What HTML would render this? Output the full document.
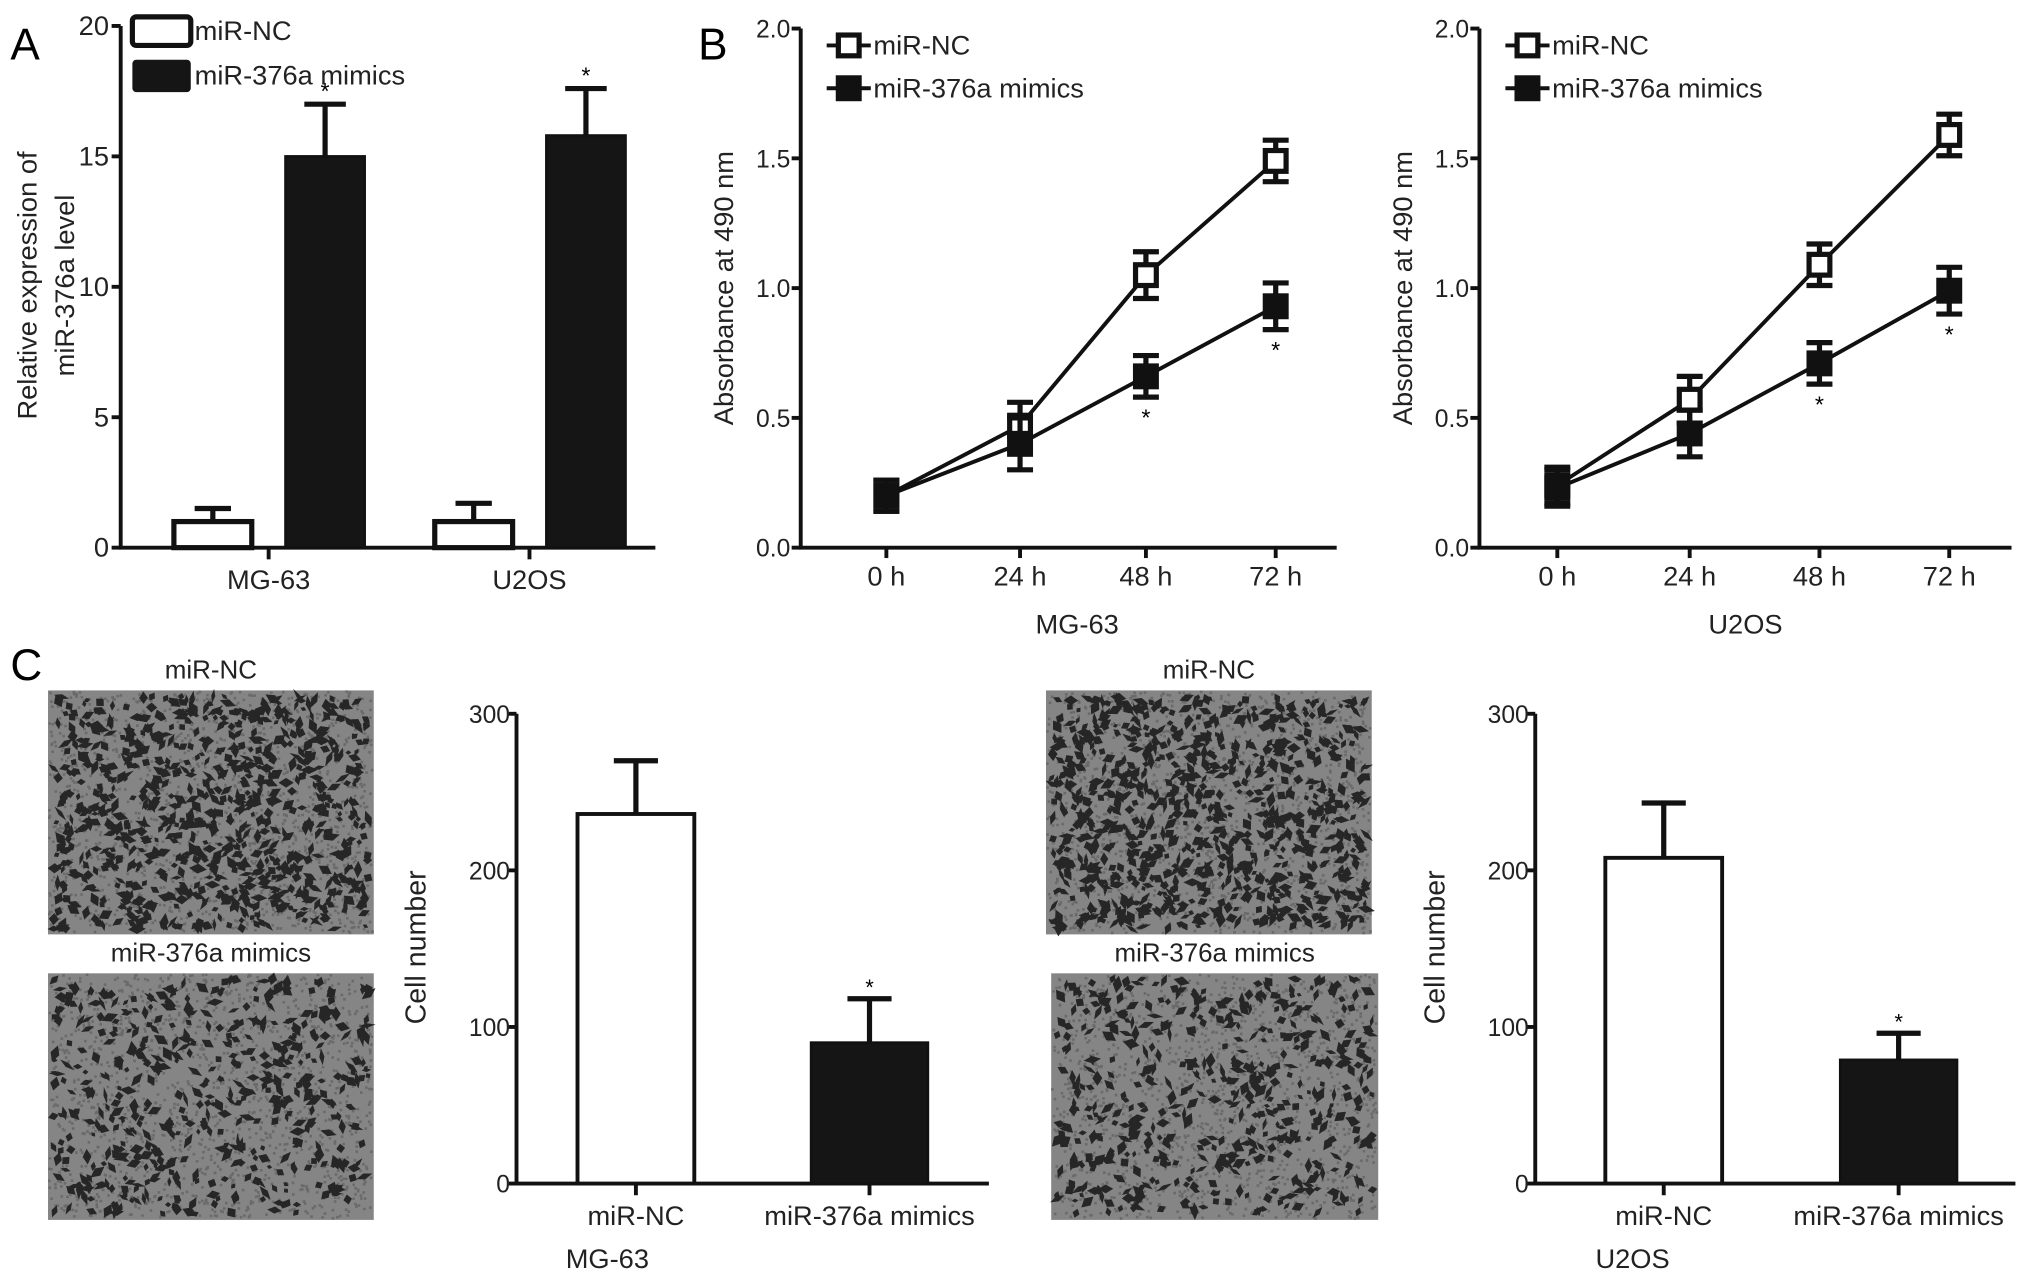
<!DOCTYPE html>
<html><head><meta charset="utf-8"><style>
html,body{margin:0;padding:0;background:#fff;}
svg{display:block;font-family:"Liberation Sans",Arial,sans-serif;}
.n{font-family:"Liberation Sans Narrow","Liberation Sans",sans-serif;}
</style></head><body>
<svg id="fig" width="2031" height="1277" viewBox="0 0 1565 984" preserveAspectRatio="none" xmlns="http://www.w3.org/2000/svg">
<text x="8" y="46" font-size="34">A</text>
<text x="538" y="46" font-size="34">B</text>
<text x="8" y="524" font-size="34">C</text>
<g id="gA"></g>
<g id="gB1"></g>
<g id="gB2"></g>
<g id="gC"></g>
</svg>
<script>
// Panel A data
const aCats = ["MG-63","U2OS"];
const aNC = [1.0, 1.0];
const aNCerr = [0.5, 0.7];
const aMim = [15.0, 15.8];
const aMimErr = [2.0, 1.8];
const aTicks = [0,5,10,15,20];
// Panel B data
const bTimes = ["0 h","24 h","48 h","72 h"];
const bTicks = [0.0,0.5,1.0,1.5,2.0];
const mgNC = [0.20,0.47,1.05,1.49];
const mgNCerr = [0.06,0.09,0.09,0.08];
const mgMim = [0.20,0.40,0.66,0.93];
const mgMimErr = [0.06,0.10,0.08,0.09];
const uNC = [0.24,0.57,1.09,1.59];
const uNCerr = [0.07,0.09,0.08,0.08];
const uMim = [0.23,0.44,0.71,0.99];
const uMimErr = [0.07,0.09,0.08,0.09];
const bStarsMG = [false,false,true,true];
const bStarsU = [false,false,true,true];
// Panel C data
const cCats = ["miR-NC","miR-376a mimics"];
const cTicks = [0,100,200,300];
const cMG = [236, 90];
const cMGerr = [34, 28];
const cU = [208, 79];
const cUerr = [35, 17];

const NS="http://www.w3.org/2000/svg";
function mk(parent,tag,attrs,text){const e=document.createElementNS(NS,tag);for(const k in attrs)e.setAttribute(k,attrs[k]);if(text!==undefined)e.textContent=text;parent.appendChild(e);return e;}

// ---------- Panel A ----------
(function(){
const g=document.getElementById('gA');
const x0=93,x1=505,y0=422,y1=20;
const ys=v=>y0-(v/20)*(y0-y1);
const groupX=[207,408];
const ax=mk(g,'path',{d:`M${x0} ${y1}V${y0}H${x1}`,stroke:'#111','stroke-width':3,fill:'none'});


aTicks.forEach(t=>{
 const l=mk(g,'line',{x1:x0-7,x2:x0,y1:ys(t),y2:ys(t),stroke:'#111','stroke-width':3});
 
 
 const tx=mk(g,'text',{x:x0-9,y:ys(t)+7,'font-size':21,'text-anchor':'end',fill:'#222'},String(t));
 
 
});
aCats.forEach((c,i)=>{
 const cx=groupX[i];
 mk(g,'line',{x1:cx,x2:cx,y1:y0,y2:y0+9,stroke:'#111','stroke-width':3});
 const tx=mk(g,'text',{x:cx,y:y0+32,'font-size':21,'text-anchor':'middle',fill:'#222'},c);
 
 
 const nl=cx-73,nw=60;
 const eb=mk(g,'path',{d:`M${nl+nw/2} ${ys(aNC[i])}V${ys(aNC[i]+aNCerr[i])}M${nl+nw/2-14} ${ys(aNC[i]+aNCerr[i])}h28`,stroke:'#111','stroke-width':4,fill:'none'});
 
 
 const b=mk(g,'rect',{x:nl,y:ys(aNC[i]),width:nw,height:y0-ys(aNC[i]),fill:'#fff',stroke:'#111','stroke-width':4});
 
 
 const ml=cx+13,mw=61;
 const eb2=mk(g,'path',{d:`M${ml+mw/2} ${ys(aMim[i])}V${ys(aMim[i]+aMimErr[i])}M${ml+mw/2-16} ${ys(aMim[i]+aMimErr[i])}h32`,stroke:'#111','stroke-width':4,fill:'none'});
 
 
 const b2=mk(g,'rect',{x:ml,y:ys(aMim[i]),width:mw,height:y0-ys(aMim[i]),fill:'#151515',stroke:'#111','stroke-width':2});
 
 
 const st=mk(g,'text',{x:ml+mw/2,y:ys(aMim[i]+aMimErr[i])-4,'font-size':18,'text-anchor':'middle'},'*');
 
 
});
const lg1=mk(g,'rect',{x:102,y:13,width:45,height:22,rx:3,fill:'#fff',stroke:'#111','stroke-width':4});


const lt1=mk(g,'text',{x:150,y:31,'font-size':21,fill:'#222'},'miR-NC');


const lg2=mk(g,'rect',{x:102,y:46,width:45,height:25,rx:3,fill:'#151515'});


const lt2=mk(g,'text',{x:150,y:65,'font-size':21,fill:'#222'},'miR-376a mimics');


const yl=mk(g,'text',{transform:'translate(28,220) rotate(-90)','font-size':21,'text-anchor':'middle',fill:'#222'},'Relative expression of');


const yl2=mk(g,'text',{transform:'translate(57,220) rotate(-90)','font-size':21,'text-anchor':'middle',fill:'#222'},'miR-376a level');


})();

// ---------- Panel B ----------
function lineChart(gid,x0,x1,xs,nc,ncErr,mim,mimErr,stars,cell,cellX){
const g=document.getElementById(gid);
const y0=422,y1=22;
const ys=v=>y0-(v/2)*(y0-y1);
const ax=mk(g,'path',{d:`M${x0} ${y1}V${y0}H${x1}`,stroke:'#111','stroke-width':3,fill:'none'});


bTicks.forEach(t=>{
 mk(g,'line',{x1:x0-7,x2:x0,y1:ys(t),y2:ys(t),stroke:'#111','stroke-width':3});
 const tx=mk(g,'text',{x:x0-8,y:ys(t)+7,'font-size':19,'text-anchor':'end',fill:'#222',class:'n'},t.toFixed(1));
 
 
});
bTimes.forEach((t,i)=>{
 mk(g,'line',{x1:xs[i],x2:xs[i],y1:y0,y2:y0+8,stroke:'#111','stroke-width':3});
 const tx=mk(g,'text',{x:xs[i],y:y0+29,'font-size':21,'text-anchor':'middle',fill:'#222',class:'n'},t);
 
 
});
const ct=mk(g,'text',{x:cellX,y:488,'font-size':21,'text-anchor':'middle',fill:'#222',class:'n'},cell);


const yl=mk(g,'text',{transform:`translate(${x0-52},222) rotate(-90)`,'font-size':21,'text-anchor':'middle',fill:'#222'},'Absorbance at 490 nm');


[[nc,ncErr,'nc',false],[mim,mimErr,'mimics',true]].forEach(([vals,errs,nm,filled])=>{
 const pl=mk(g,'polyline',{points:vals.map((v,i)=>xs[i]+','+ys(v)).join(' '),fill:'none',stroke:'#111','stroke-width':3});
 
 
 vals.forEach((v,i)=>{
  const e=mk(g,'path',{d:`M${xs[i]} ${ys(v+errs[i])}V${ys(v-errs[i])}M${xs[i]-10} ${ys(v+errs[i])}h20M${xs[i]-10} ${ys(v-errs[i])}h20`,stroke:'#111','stroke-width':4,fill:'none'});
  
  
  const p=mk(g,'rect',{x:xs[i]-8,y:ys(v)-8,width:16,height:16,fill:filled?'#111':'#fff',stroke:'#111','stroke-width':4});
  
  
  if(filled&&stars[i]){
   const s=mk(g,'text',{x:xs[i],y:ys(v-errs[i])+22,'font-size':18,'text-anchor':'middle'},'*');
   
   
  }
 });
});
const lx=x0+22;
[['miR-NC',35,false,'nc'],['miR-376a mimics',68,true,'mimics']].forEach(([t,y,f,nm])=>{
 mk(g,'line',{x1:lx-2,x2:lx+32,y1:y,y2:y,stroke:'#111','stroke-width':3});
 const m=mk(g,'rect',{x:lx+7,y:y-8,width:16,height:16,fill:f?'#111':'#fff',stroke:'#111','stroke-width':4});
 
 
 const tx=mk(g,'text',{x:lx+34,y:y+7,'font-size':21,fill:'#222',class:'n'},t);
 
 
});
}
lineChart('gB1',617,1030,[683,786,883,983],mgNC,mgNCerr,mgMim,mgMimErr,bStarsMG,'MG-63',830);
lineChart('gB2',1140,1550,[1200,1302,1402,1502],uNC,uNCerr,uMim,uMimErr,bStarsU,'U2OS',1345);

// ---------- Panel C ----------
(function(){
const g=document.getElementById('gC');
let seed=7;const rnd=()=>{seed=(seed*16807)%2147483647;return seed/2147483647;};
function micro(x,y,w,h,name,n,label){
 const gg=mk(g,'g',{});
 
 
 mk(gg,'rect',{x:x,y:y,width:w,height:h,fill:'#858585'});
 let sp='';
 for(let i=0;i<1500;i++){
  const cx=x+rnd()*(w-2),cy=y+rnd()*(h-2);
  sp+=`M${cx.toFixed(1)} ${cy.toFixed(1)}h2v2h-2Z`;
 }
 mk(gg,'path',{d:sp,fill:'#6a6a6a'});
 let d='';
 for(let i=0;i<n;i++){
  const cx=x+4+rnd()*(w-8),cy=y+4+rnd()*(h-8),a=2+rnd()*5,b=1.5+rnd()*2.5,ang=rnd()*6.28;
  const dx=Math.cos(ang)*a,dy=Math.sin(ang)*a,px=-Math.sin(ang)*b,py=Math.cos(ang)*b;
  d+=`M${(cx-dx).toFixed(1)} ${(cy-dy).toFixed(1)}L${(cx+px).toFixed(1)} ${(cy+py).toFixed(1)}L${(cx+dx).toFixed(1)} ${(cy+dy).toFixed(1)}L${(cx-px).toFixed(1)} ${(cy-py).toFixed(1)}Z`;
 }
 mk(gg,'path',{d:d,fill:'#262626'});
 const t=mk(g,'text',{x:x+w/2,y:y-9,'font-size':20,'text-anchor':'middle',fill:'#222',class:'n'},label);
 
 
}
micro(37,532,251,188,'micrograph-mg63-nc',850,'miR-NC');
micro(37,750,251,190,'micrograph-mg63-mimics',520,'miR-376a mimics');
micro(806,532,251,188,'micrograph-u2os-nc',900,'miR-NC');
micro(810,750,252,190,'micrograph-u2os-mimics',520,'miR-376a mimics');

function barC(x0,x1,centers,vals,errs,cell,cellX,pre){
 const y0=912,y1=550;
 const ys=v=>y0-(v/300)*(y0-y1);
 const ax=mk(g,'path',{d:`M${x0} ${y1}V${y0}H${x1}`,stroke:'#111','stroke-width':3,fill:'none'});
 
 
 cTicks.forEach(t=>{
  mk(g,'line',{x1:x0-6,x2:x0,y1:ys(t),y2:ys(t),stroke:'#111','stroke-width':3});
  const tx=mk(g,'text',{x:x0-5,y:ys(t)+7,'font-size':19,'text-anchor':'end',fill:'#222',class:'n'},String(t));
  
  
 });
 cCats.forEach((c,i)=>{
  const cx=centers[i],w=90;
  mk(g,'line',{x1:cx,x2:cx,y1:y0,y2:y0+9,stroke:'#111','stroke-width':3});
  const tx=mk(g,'text',{x:cx,y:y0+32,'font-size':21,'text-anchor':'middle',fill:'#222',class:'n'},c);
  
  
  const e=mk(g,'path',{d:`M${cx} ${ys(vals[i])}V${ys(vals[i]+errs[i])}M${cx-17} ${ys(vals[i]+errs[i])}h34`,stroke:'#111','stroke-width':4,fill:'none'});
  
  
  const b=mk(g,'rect',{x:cx-w/2,y:ys(vals[i]),width:w,height:y0-ys(vals[i]),fill:i?'#151515':'#fff',stroke:'#111','stroke-width':i?2:3});
  
  
  if(i){
   const s=mk(g,'text',{x:cx,y:ys(vals[i]+errs[i])-3,'font-size':17,'text-anchor':'middle'},'*');
   
   
  }
 });
 const ct=mk(g,'text',{x:cellX,y:977,'font-size':21,'text-anchor':'middle',fill:'#222',class:'n'},cell);
 
 
 const yl=mk(g,'text',{transform:`translate(${x0-70},730) rotate(-90)`,'font-size':22,'text-anchor':'middle',fill:'#222'},'Cell number');
 
 
}
barC(398,762,[490,670],cMG,cMGerr,'MG-63',468,'c-mg63');
barC(1183,1553,[1282,1463],cU,cUerr,'U2OS',1258,'c-u2os');
})();
</script>
</body></html>
